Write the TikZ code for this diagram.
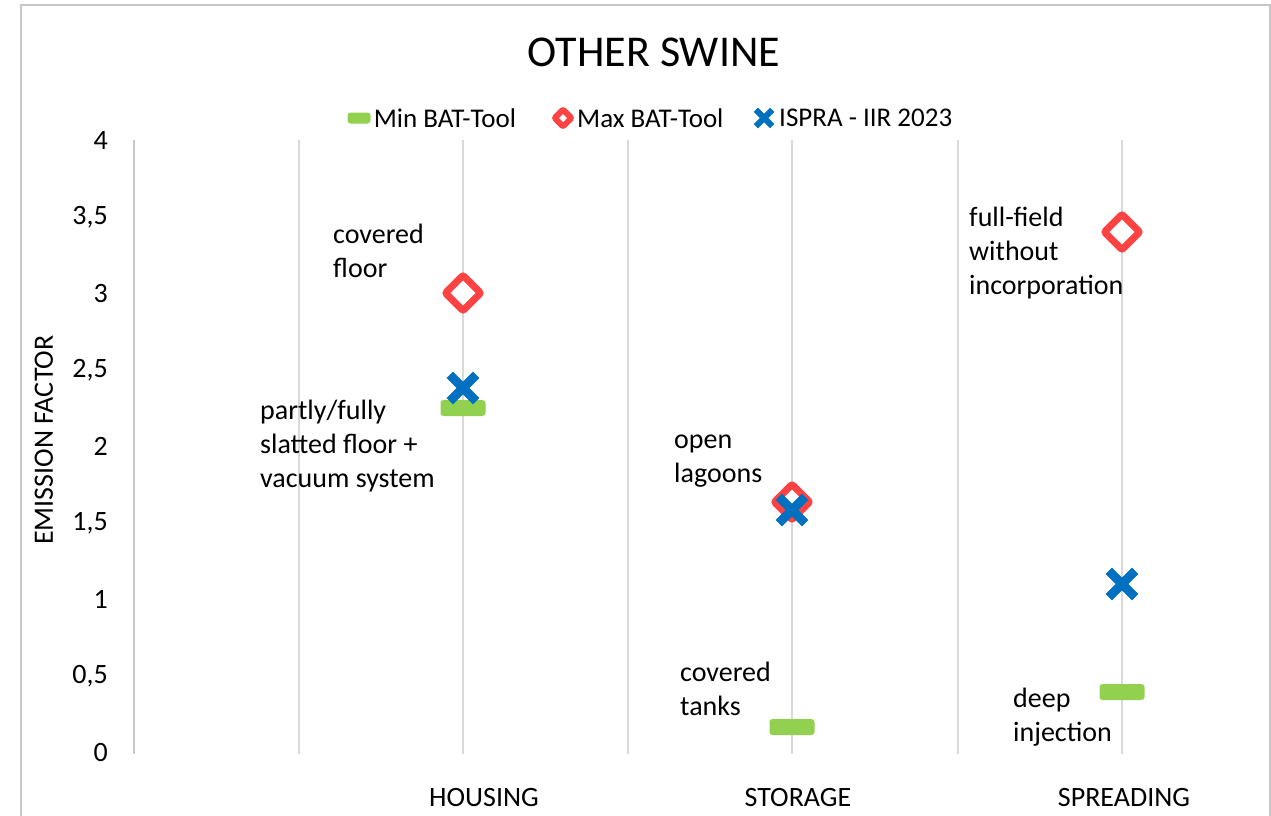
\documentclass[tikz,border=0pt]{standalone}
\usepackage{fontspec}
\setmainfont{Carlito}
\usetikzlibrary{positioning}
\definecolor{mingreen}{RGB}{146,208,80}
\definecolor{maxred}{RGB}{255,66,66}
\definecolor{isprablue}{RGB}{0,112,192}
\definecolor{gridgray}{RGB}{217,217,217}
\definecolor{framegray}{RGB}{200,200,200}
\tikzset{
  minmark/.style={fill=mingreen, rounded corners=3pt, minimum width=45pt, minimum height=16pt, inner sep=0pt},
  maxmark/.style={draw=maxred, fill=white, line width=7pt, rounded corners=2pt, rotate=45, minimum size=25pt, inner sep=0pt},
  ispramark/.style={minimum size=26pt, inner sep=0pt},
  txt/.style={font=\fontsize{28}{34}\selectfont, inner sep=0pt},
  legtxt/.style={font=\fontsize{27}{33}\selectfont, inner sep=0pt, anchor=west},
  note/.style={txt, align=left, anchor=north west}
}
\begin{document}
\begin{tikzpicture}[x=1pt, y=-1pt]
  \useasboundingbox (0,0) rectangle (1271,816);
  \draw[framegray, line width=1.5pt] (21,830) -- (21,5) -- (1270,5) -- (1270,830);

  \draw[framegray, line width=1.5pt] (134,140) -- (134,754);
  \foreach \x in {299,463,628,792,958,1122}
    \draw[gridgray, line width=2.5pt] (\x,140) -- (\x,754);

  \foreach \t [count=\i from 0] in {0,{0,5},1,{1,5},2,{2,5},3,{3,5},4}
    \node[txt, anchor=east] (tick\i) at (108,753-76.6*\i) {\t};

  \node[font=\fontsize{44}{52}\selectfont] (title) at (654,52) {OTHER SWINE};
  \node[txt, rotate=90] (ylabel) at (44,440) {EMISSION FACTOR};

  \node[txt] (housing) at (484,798) {HOUSING};
  \node[txt] (storage) at (798,798) {STORAGE};
  \node[txt] (spreading) at (1124,798) {SPREADING};

  % legend
  \node[minmark, minimum width=23pt, minimum height=11pt] (legmin) at (359,118) {};
  \node[legtxt, right=3pt of legmin] (legmintext) {Min BAT-Tool};
  \node[maxmark, minimum size=12pt, line width=6pt] (legmax) at (563,118) {};
  \node[legtxt] (legmaxtext) at (577,118) {Max BAT-Tool};
  \node[ispramark, minimum size=16pt] (legispra) at (764,118) {};
  \node[legtxt] (legispratext) at (779,118) {ISPRA - IIR 2023};

  % data
  \node[minmark] (minhousing) at (463,408) {};
  \node[minmark] (minstorage) at (792,727) {};
  \node[minmark] (minspreading) at (1122,692) {};
  \node[maxmark] (maxhousing) at (463,293) {};
  \node[maxmark] (maxstorage) at (792,502) {};
  \node[maxmark] (maxspreading) at (1122,232) {};
  \node[ispramark] (isprahousing) at (463,388) {};
  \node[ispramark] (isprastorage) at (792,510) {};
  \node[ispramark] (ispraspreading) at (1122,584) {};
  \draw[isprablue, line width=6pt] (legispra.north west) -- (legispra.south east)
    (legispra.north east) -- (legispra.south west);
  \foreach \n in {isprahousing,isprastorage,ispraspreading}
    \draw[isprablue, line width=9pt] (\n.north west) -- (\n.south east)
      (\n.north east) -- (\n.south west);

  \node[note] (covfloor) at (333,224) {covered\\floor};
  \node[note] (slatted) at (260,400) {partly/fully\\slatted floor +\\vacuum system};
  \node[note] (lagoons) at (674,435) {open\\lagoons};
  \node[note] (tanks) at (680,662) {covered\\tanks};
  \node[note] (fullfield) at (969,207) {full-field\\without\\incorporation};
  \node[note] (injection) at (1013,688) {deep\\injection};
\end{tikzpicture}
\end{document}
